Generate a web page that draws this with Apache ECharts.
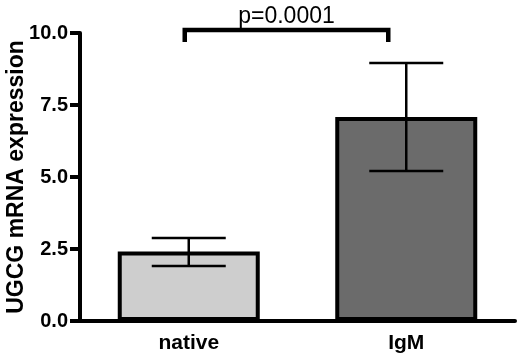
<!DOCTYPE html>
<html><head><meta charset="utf-8">
<script src="https://cdn.jsdelivr.net/npm/echarts@6/dist/echarts.min.js"></script>
<style>html,body{margin:0;padding:0;background:#fff}#c{width:520px;height:357px}</style>
</head><body><div id="c"></div>
<script>
const categories = ['native', 'IgM'];
const means = [2.41, 7.08];
const errLow = [1.91, 5.21];
const errHigh = [2.88, 8.96];
const barColors = ['#cecece', '#6b6b6b'];
const yTicks = [0, 2.5, 5, 7.5, 10];
const pLabel = 'p=0.0001';
const bracketTop = 10.1;
const bracketBottom = 9.69;

const FONT = 'Liberation Sans, Arial, sans-serif';
const chart = echarts.init(document.getElementById('c'));
chart.setOption({
  animation: false,
  backgroundColor: '#fff',
  grid: {left: 80, right: 5, top: 33, bottom: 36, containLabel: false, outerBoundsMode: 'none'},
  xAxis: {
    type: 'category', data: categories,
    axisLine: {lineStyle: {color: '#000', width: 4}},
    axisTick: {alignWithLabel: true, length: 10, lineStyle: {color: '#000', width: 4}},
    axisLabel: {color: '#000', fontWeight: 'bold', fontSize: 21, fontFamily: FONT, margin: 12}
  },
  yAxis: {
    type: 'value', min: yTicks[0], max: yTicks[yTicks.length-1], interval: 2.5,
    name: 'UGCG mRNA expression', nameLocation: 'middle', nameGap: 52, nameMoveOverlap: false,
    nameTextStyle: {color: '#000', fontWeight: 'bold', fontSize: 23, fontFamily: FONT},
    axisLine: {show: true, lineStyle: {color: '#000', width: 4}},
    axisTick: {show: true, length: 10, lineStyle: {color: '#000', width: 4}},
    splitLine: {show: false},
    axisLabel: {color: '#000', fontWeight: 'bold', fontSize: 20, fontFamily: FONT, margin: 12,
      formatter: v => v.toFixed(1)}
  },
  series: [
    {
      type: 'bar', barWidth: 142,
      data: means.map((v, i) => ({value: v, itemStyle: {color: barColors[i]}})),
      itemStyle: {borderColor: '#000', borderWidth: 4}
    },
    {
      type: 'custom', clip: false, z: 5,
      data: categories.map((c, i) => [i, errLow[i], errHigh[i]]),
      renderItem: function (params, api) {
        const lo = api.coord([api.value(0), api.value(1)]);
        const hi = api.coord([api.value(0), api.value(2)]);
        const hw = 37;
        const st = {stroke: '#000', lineWidth: 2.5};
        return {type: 'group', children: [
          {type: 'line', shape: {x1: hi[0], y1: hi[1], x2: lo[0], y2: lo[1]}, style: st},
          {type: 'line', shape: {x1: hi[0]-hw, y1: hi[1], x2: hi[0]+hw, y2: hi[1]}, style: st},
          {type: 'line', shape: {x1: lo[0]-hw, y1: lo[1], x2: lo[0]+hw, y2: lo[1]}, style: st}
        ]};
      }
    },
    {
      type: 'custom', clip: false, z: 6,
      data: [[0, 1, bracketTop, bracketBottom]],
      renderItem: function (params, api) {
        const a = api.coord([api.value(0), api.value(2)]);
        const b = api.coord([api.value(1), api.value(2)]);
        const yb = api.coord([api.value(0), api.value(3)])[1];
        const x1 = a[0] - 4, x2 = b[0] - 18;
        const st = {stroke: '#000', lineWidth: 4.5, fill: null};
        return {type: 'group', children: [
          {type: 'polyline', shape: {points: [[x1, yb], [x1, a[1]], [x2, a[1]], [x2, yb]]}, style: st},
          {type: 'text', x: (x1 + x2) / 2, y: a[1] - 2, style: {text: pLabel, fill: '#000', font: '23px ' + FONT, lineHeight: 23, textAlign: 'center', textVerticalAlign: 'bottom'}}
        ]};
      }
    }
  ]
});
</script></body></html>
